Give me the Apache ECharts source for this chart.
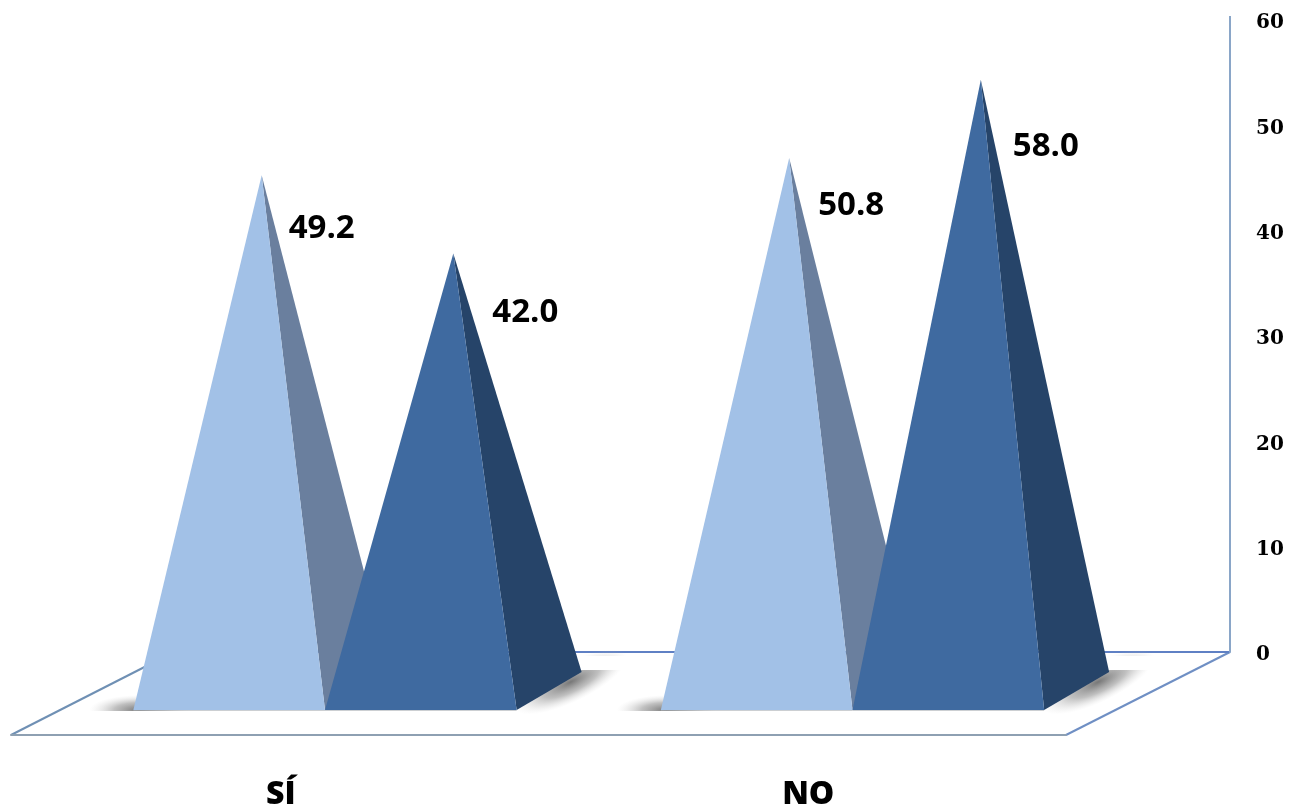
<!DOCTYPE html>
<html>
<head>
<meta charset="utf-8">
<style>html,body{margin:0;padding:0;background:#fff}#chart{width:1293px;height:812px}</style>
<script src="https://cdn.jsdelivr.net/npm/echarts@6/dist/echarts.min.js"></script>
</head>
<body>
<div id="chart"></div>
<script>
var categories = ['SÍ', 'NO'];
var serieClara = [49.2, 50.8];
var serieOscura = [42.0, 58.0];
var tickValues = [0, 10, 20, 30, 40, 50, 60];

var claraOffsets = [[60, 53], [62, 48]];
var oscuraOffsets = [[72, 59], [65, 67]];
var depthX = 65, depthY = 38, groupShift = 50.25, widthRatio = 0.3633;

function softShadow(cx, cy, rx, ry, rot) {
  return {type: 'circle', x: cx, y: cy, rotation: rot, scaleX: rx / 10, scaleY: ry / 10,
    shape: {cx: 0, cy: 0, r: 10},
    style: {fill: {type: 'radial', x: 0.5, y: 0.5, r: 0.5, colorStops: [
      {offset: 0, color: 'rgba(95,95,95,0.85)'},
      {offset: 0.5, color: 'rgba(130,130,130,0.5)'},
      {offset: 1, color: 'rgba(210,210,210,0)'}]}}};
}

function pyramid(api, params, side, front, back, offsets) {
  var cat = api.value(0), val = api.value(1);
  var base = api.coord([cat, 0]);
  var top = api.coord([cat, val]);
  var w = api.size([1, 0])[0] * widthRatio;
  var cx = base[0] + groupShift;
  var x0 = side < 0 ? cx - w : cx;
  var x1 = x0 + w;
  var y = base[1];
  var ax = (x0 + x1) / 2 + depthX / 2;
  var ay = top[1];
  var kids = [];
  if (side < 0) {
    kids.push(softShadow(x0 + 6, y, 50, 15, 0));
    kids.push({type: 'rect', shape: {x: x0 - 60, y: y + 1, width: 130, height: 16}, style: {fill: '#fff'}});
  } else {
    kids.push(softShadow(x1 + 54, y - 28, 62, 20, 0.45));
    kids.push({type: 'rect', shape: {x: x1 + 40, y: y - depthY - 16, width: 100, height: 14}, style: {fill: '#fff'}});
  }
  kids.push({type: 'polygon', shape: {points: [[x1, y], [x1 + depthX, y - depthY], [ax, ay]]}, style: {fill: back}});
  kids.push({type: 'polygon', shape: {points: [[x0, y], [x1, y], [ax, ay]]}, style: {fill: front}});
  kids.push({type: 'line', shape: {x1: x0, y1: y + 0.5, x2: x1, y2: y + 0.5}, style: {stroke: 'rgba(170,175,180,0.6)', lineWidth: 1}});
  var off = offsets[params.dataIndex];
  kids.push({type: 'text', style: {
    text: val.toFixed(1), x: ax + off[0], y: ay + off[1], align: 'center', verticalAlign: 'middle',
    font: '700 33px "Open Sans", sans-serif', fill: '#000'
  }});
  return {type: 'group', children: kids};
}

var chart = echarts.init(document.getElementById('chart'), null, {renderer: 'canvas'});
chart.setOption({
  animation: false,
  backgroundColor: '#fff',
  grid: [
    {left: 11, width: 1055, top: 58, height: 652},
    {left: 100, right: 63, top: 20, height: 632}
  ],
  xAxis: [
    {type: 'category', gridIndex: 0, data: categories, offset: 25,
      axisTick: {show: false},
      axisLine: {show: true, onZero: false, lineStyle: {color: '#8ea0b2', width: 2}},
      axisLabel: {margin: 44, padding: [0, 0, 0, 12], fontFamily: '"Open Sans", sans-serif', fontWeight: 800, fontSize: 32, color: '#000'}},
    {type: 'category', gridIndex: 1, data: categories, show: false}
  ],
  yAxis: [
    {type: 'value', gridIndex: 0, min: 0, max: 60, show: false},
    {type: 'value', gridIndex: 1, min: 0, max: 60, interval: 10, position: 'right',
      axisLine: {show: true, lineStyle: {color: '#8aa6c8', width: 2}},
      axisTick: {show: false}, splitLine: {show: false},
      axisLabel: {margin: 26, align: 'left', verticalAlign: 'top', lineHeight: 6, fontFamily: '"DejaVu Serif", serif', fontWeight: 'bold', fontSize: 20, color: '#000',
        formatter: function (v) { return tickValues.indexOf(v) >= 0 ? String(v) : ''; }}}
  ],
  graphic: [
    {type: 'polyline', silent: true, z: 0, shape: {points: [[1066, 735], [1230, 652]]}, style: {stroke: '#6f8fc4', lineWidth: 2, fill: null}},
    {type: 'polyline', silent: true, z: 0, shape: {points: [[11, 735], [174, 652]]}, style: {stroke: '#6f90b4', lineWidth: 2, fill: null}},
    {type: 'polyline', silent: true, z: 0, shape: {points: [[174, 652], [1230, 652]]}, style: {stroke: '#5f80c4', lineWidth: 2, fill: null}},
    {type: 'polyline', silent: true, z: 0, shape: {points: [[1230, 16], [1230, 22]]}, style: {stroke: '#8aa6c8', lineWidth: 2, fill: null}}
  ],
  series: [
    {type: 'custom', name: 'Serie 1', xAxisIndex: 0, yAxisIndex: 0, clip: false,
      data: serieClara.map(function (v, i) { return [i, v]; }),
      encode: {x: 0, y: 1},
      renderItem: function (params, api) { return pyramid(api, params, -1, '#a2c1e7', '#6a7f9e', claraOffsets); }},
    {type: 'custom', name: 'Serie 2', xAxisIndex: 0, yAxisIndex: 0, clip: false,
      data: serieOscura.map(function (v, i) { return [i, v]; }),
      encode: {x: 0, y: 1},
      renderItem: function (params, api) { return pyramid(api, params, 1, '#3f6aa0', '#264469', oscuraOffsets); }}
  ]
});
</script>
</body>
</html>
